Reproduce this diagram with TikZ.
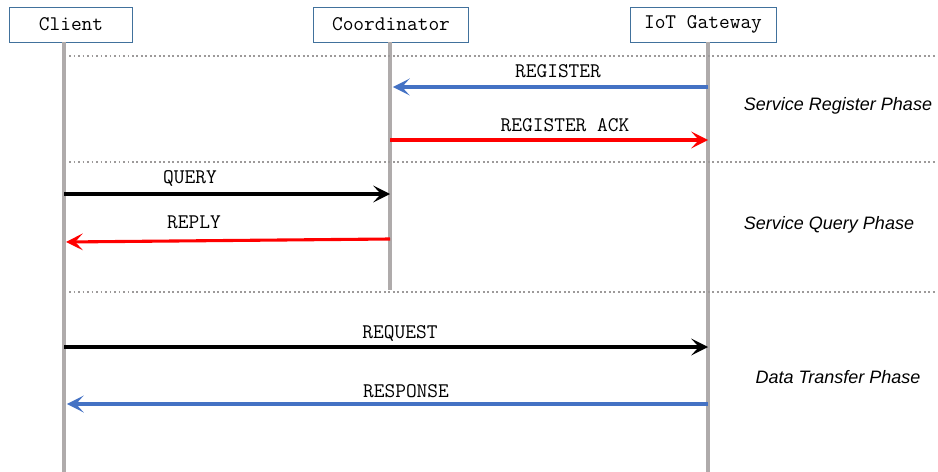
\documentclass[tikz,border=0pt]{standalone}
\usepackage{fontspec}
\setsansfont{Liberation Sans}
\usetikzlibrary{arrows.meta}
\definecolor{boxblue}{HTML}{41719C}
\definecolor{msgblue}{HTML}{4472C4}
\definecolor{lifegray}{HTML}{AFABAB}
\begin{document}
\begin{tikzpicture}[x=0.025cm,y=-0.025cm]
	\tikzstyle{acteur}=[draw=boxblue, line width=0.7pt, minimum height=0.875cm, inner sep=0pt, font=\ttfamily\fontsize{14.8}{16}\selectfont]
	\tikzstyle{vie}=[draw=lifegray, line width=2.2pt]
	\tikzstyle{separation}=[draw=lifegray!90!black, line width=1.2pt, dotted]
	\tikzstyle{msg}=[font=\ttfamily\fontsize{14.8}{16}\selectfont, inner sep=0pt]
	\tikzstyle{fleche}=[line width=2.2pt, -{Stealth[length=4.2mm, width=4.2mm, inset=1.9mm]}]
	\tikzstyle{phase}=[font=\sffamily\itshape\fontsize{12.8}{14}\selectfont, inner sep=0pt]
	\useasboundingbox (0,0) rectangle (938,472);
	% acteurs
	\node[acteur, minimum width=3.05cm] (client) at (71,24.5) {Client};
	\node[acteur, minimum width=3.85cm] (coord) at (391,24.5) {Coordinator};
	\node[acteur, minimum width=3.65cm] (gw) at (703,24.5) {IoT Gateway};
	% lignes de vie
	\coordinate (clhaut) at (64,42);
	\coordinate (clbas) at (64,472);
	\coordinate (cohaut) at (390,42);
	\coordinate (cobas) at (390,290);
	\coordinate (gwhaut) at (708,42);
	\coordinate (gwbas) at (708,472);
	\draw[vie] (clhaut) -- (clbas);
	\draw[vie] (cohaut) -- (cobas);
	\draw[vie] (gwhaut) -- (gwbas);
	% phases
	\coordinate (s1a) at (69,56);  \coordinate (s1b) at (935,56);
	\coordinate (s2a) at (69,162); \coordinate (s2b) at (935,162);
	\coordinate (s3a) at (69,292); \coordinate (s3b) at (935,292);
	\draw[separation] (s1a) -- (s1b);
	\draw[separation] (s2a) -- (s2b);
	\draw[separation] (s3a) -- (s3b);
	% messages
	\coordinate (r1) at (0,87);
	\coordinate (r2) at (0,140);
	\coordinate (r3) at (0,194);
	\coordinate (r5) at (0,347);
	\coordinate (r6) at (0,404);
	\draw[fleche, msgblue] (gwhaut |- r1) -- ([xshift=2pt]cohaut |- r1);
	\node[msg] (lregister) at (558,71) {REGISTER};
	\draw[fleche, red] (cohaut |- r2) -- (gwhaut |- r2);
	\node[msg] (lack) at (565,125) {REGISTER ACK};
	\draw[fleche, black] (clhaut |- r3) -- (cohaut |- r3);
	\node[msg] (lquery) at (190,178) {QUERY};
	\coordinate (rep1) at (390,239);
	\coordinate (rep2) at (66,242);
	\draw[fleche, red] (rep1) -- (rep2);
	\node[msg] (lreply) at (194,222) {REPLY};
	\draw[fleche, black] (clhaut |- r5) -- (gwhaut |- r5);
	\node[msg] (lrequest) at (400,333) {REQUEST};
	\draw[fleche, msgblue] (gwhaut |- r6) -- ([xshift=2pt]clhaut |- r6);
	\node[msg] (lresponse) at (406,391) {RESPONSE};
	% noms des phases
	\node[phase] (p1) at (838,106) {Service Register Phase};
	\node[phase] (p2) at (829,225) {Service Query Phase};
	\node[phase] (p3) at (838,377) {Data Transfer Phase};
\end{tikzpicture}
\end{document}
